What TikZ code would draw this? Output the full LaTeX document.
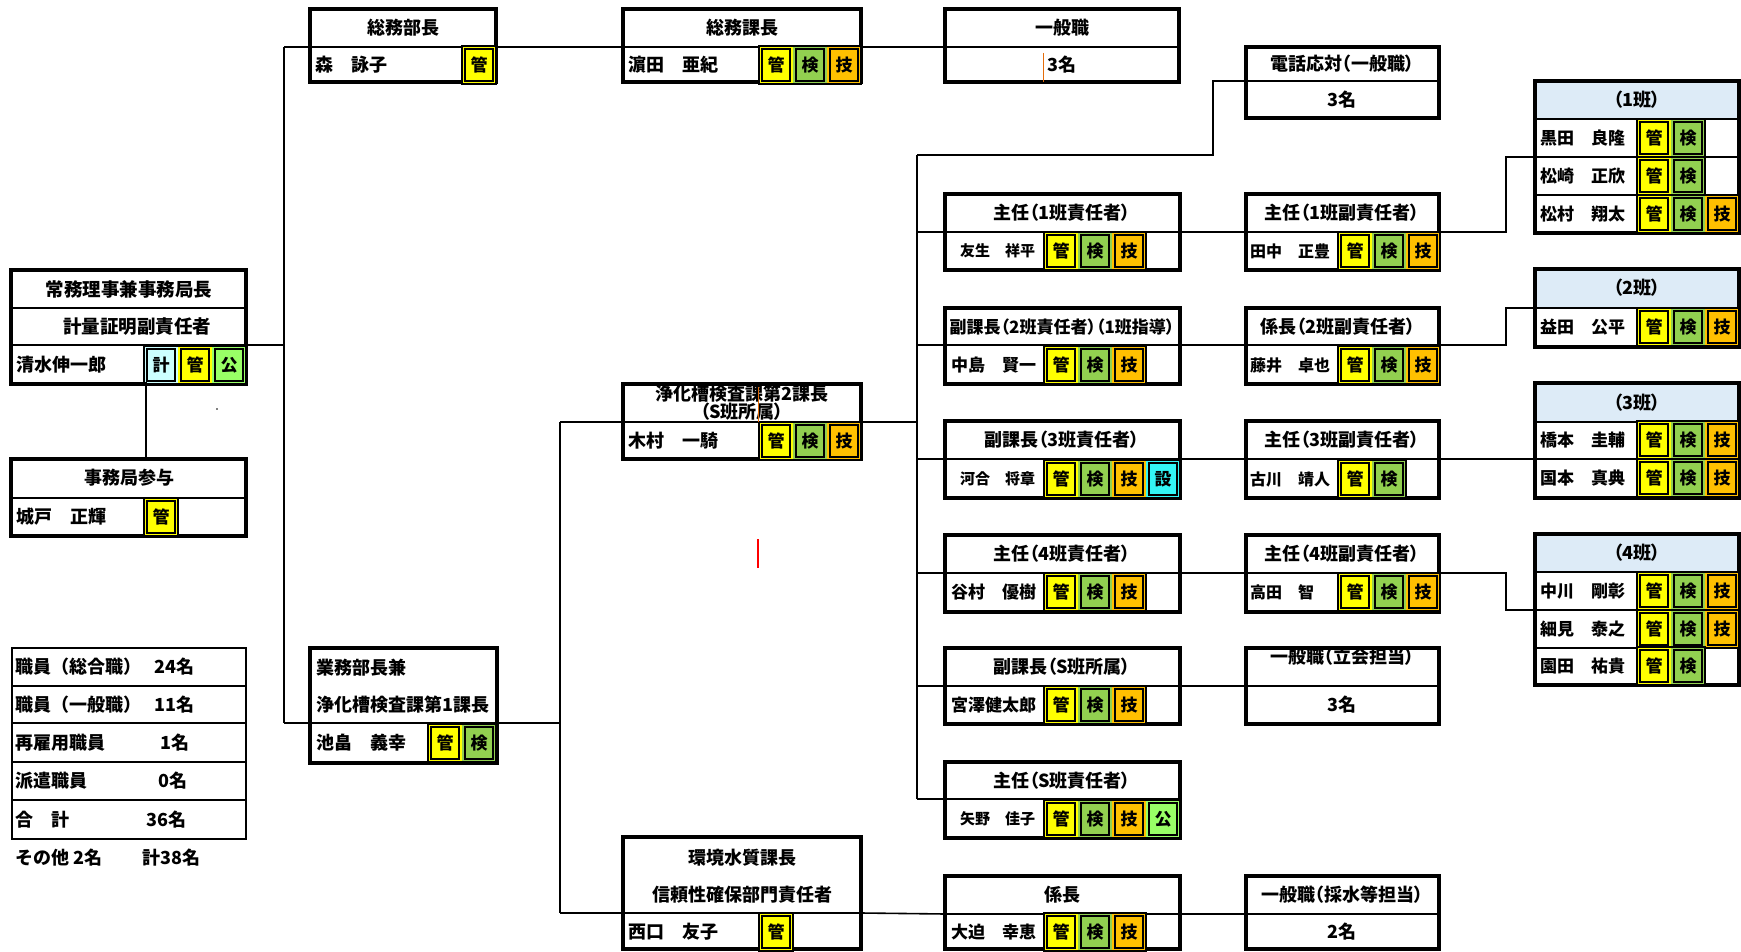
\documentclass[tikz,border=0pt]{standalone}
\usepackage{fontspec}
\setmainfont{Noto Sans CJK JP}
\newfontfamily\jpp{Noto Sans CJK JP}[RawFeature=+palt]
\usetikzlibrary{fit}
\definecolor{cK}{HTML}{FFFF00}
\definecolor{cG}{HTML}{92D050}
\definecolor{cO}{HTML}{FFC000}
\definecolor{cS}{HTML}{33F5F5}
\definecolor{cKei}{HTML}{CCFFFF}
\definecolor{cKo}{HTML}{99FF66}
\definecolor{cH}{HTML}{DDEBF7}
\definecolor{cR}{HTML}{E46C0A}
\newcommand\fsz[1]{\fontsize{#1pt}{#1pt}\selectfont\bfseries}
\tikzset{
  frame/.style={draw, line width=3.4pt, inner sep=0pt},
  divl/.style={line width=2pt},
  conn/.style={line width=1.6pt},
  txt/.style={inner sep=0pt, font=\fsz{18}},
  ptxt/.style={inner sep=0pt, font=\jpp\fsz{18}},
  nm/.style={inner sep=0pt, anchor=west, font=\fsz{18}},
  bdg/.style={fill=#1, draw=black, line width=1.7pt, minimum width=28pt,
    minimum height=32pt, inner sep=0pt, preaction={draw=#1, line width=5.5pt},
    font=\fsz{17}},
  grp/.style={draw, line width=1.1pt},
  tbl/.style={draw, line width=2pt, inner sep=0pt},
}
% box: name, x1, y1, x2, y2, y of divider
\newcommand\obox[6]{%
  \node[frame, fit={(#2,#3) (#4,#5)}] (#1) {};
  \coordinate (#1-dl) at (#2,#6);
  \coordinate (#1-dr) at (#4,#6);
  \draw[divl] (#1-dl) -- (#1-dr);
}
% badges: prefix, x left, y centre, count, list colour/char
\newcommand\bdgs[5]{%
  \foreach \bcol/\btxt [count=\i] in {#5} {
    \node[bdg=\bcol] (#1-b\i) at ({#2+17+(\i-1)*34},#3) {\btxt};
  }
  \draw[grp] (#2,#3-19) rectangle ({#2+34*#4},#3+19);
}
\begin{document}
\begin{tikzpicture}[x=1pt, y=-1pt]
\useasboundingbox (0,0) rectangle (1741,952);

% ---------- connectors ----------
\coordinate (vA1) at (284,47);
\coordinate (vA2) at (284,723);
\coordinate (vB1) at (560,422);
\coordinate (vB2) at (560,913);
\coordinate (vC1) at (917,155);
\coordinate (vC2) at (917,799);
\coordinate (tel) at (1213,155);
\coordinate (vF) at (1506,500);

% ---------- header fills ----------
\fill[cH] (1535,81) rectangle (1739,119);
\fill[cH] (1535,269) rectangle (1739,308);
\fill[cH] (1535,383) rectangle (1739,422);
\fill[cH] (1535,534) rectangle (1739,572);

% ---------- clipped titles ----------
\begin{scope}
  \clip (623,384) rectangle (861,422);
  \node[ptxt] (jokaso2-t1) at (742,394) {浄化槽検査課第2課長};
  \node[ptxt] (jokaso2-t2) at (742,412) {（S班所属）};
\end{scope}
\begin{scope}
  \clip (1246,648) rectangle (1439,686);
  \node[ptxt] (e5-t) at (1342,657) {一般職（立会担当）};
\end{scope}

% ---------- column A ----------
\obox{jimu}{11}{270}{246}{384}{345}
\draw[divl] (jimu.west |- 0,308) -- (jimu.east |- 0,308);
\node[txt, font=\fsz{18.5}] (jimu-t1) at (129,289) {常務理事兼事務局長};
\node[txt, font=\fsz{18.5}] (jimu-t2) at (137,327) {計量証明副責任者};
\node[nm] (jimu-n) at (16,365) {清水伸一郎};
\bdgs{jimu}{144}{365}{3}{cKei/計,cK/管,cKo/公}

\obox{sanyo}{11}{459}{246}{536}{498}
\node[txt] (sanyo-t) at (129,478) {事務局参与};
\node[nm] (sanyo-n) at (16,517) {城戸　正輝};
\bdgs{sanyo}{144}{517}{1}{cK/管}

\node[tbl, fit={(12,648) (246,839)}] (stats) {};
\foreach \yy in {686,723,762,800} \draw[divl] (stats.west |- 0,\yy) -- (stats.east |- 0,\yy);
\node[nm] (s1) at (15,667) {職員（総合職）};
\node[nm] (s1n) at (154,667) {24名};
\node[nm] (s2) at (15,705) {職員（一般職）};
\node[nm] (s2n) at (154,705) {11名};
\node[nm] (s3) at (15,743) {再雇用職員};
\node[nm] (s3n) at (160,743) {1名};
\node[nm] (s4) at (15,781) {派遣職員};
\node[nm] (s4n) at (158,781) {0名};
\node[nm] (s5) at (15,820) {合　計};
\node[nm] (s5n) at (146,820) {36名};
\node[nm] (s6) at (15,858) {その他 2名};
\node[nm] (s6n) at (142,858) {計38名};

% ---------- column B ----------
\obox{soumubu}{310}{9}{496}{82}{47}
\node[txt] (soumubu-t) at (403,28) {総務部長};
\node[nm] (soumubu-n) at (315,65) {森　詠子};
\bdgs{soumubu}{462}{65}{1}{cK/管}

\obox{gyomu}{310}{648}{497}{763}{723}
\node[nm] (gyomu-t1) at (316,668) {業務部長兼};
\node[nm] (gyomu-t2) at (316,705) {浄化槽検査課第1課長};
\node[nm] (gyomu-n) at (316,743) {池畠　義幸};
\bdgs{gyomu}{428}{743}{2}{cK/管,cG/検}

% ---------- column C ----------
\obox{soumuka}{623}{9}{861}{82}{47}
\node[txt] (soumuka-t) at (742,28) {総務課長};
\node[nm] (soumuka-n) at (628,65) {濵田　亜紀};
\bdgs{soumuka}{759}{65}{3}{cK/管,cG/検,cO/技}

\obox{jokaso2}{623}{384}{861}{459}{422}
\node[nm] (jokaso2-n) at (628,441) {木村　一騎};
\bdgs{jokaso2}{759}{441}{3}{cK/管,cG/検,cO/技}

\obox{kankyo}{623}{837}{861}{949}{913}
\node[txt] (kankyo-t1) at (742,858) {環境水質課長};
\node[txt] (kankyo-t2) at (742,895) {信頼性確保部門責任者};
\node[nm] (kankyo-n) at (628,932) {西口　友子};
\bdgs{kankyo}{759}{932}{1}{cK/管}

% ---------- column D ----------
\obox{ippan}{945}{9}{1179}{82}{47}
\node[txt] (ippan-t) at (1062,28) {一般職};
\node[txt] (ippan-n) at (1062,65) {3名};

\obox{d1}{945}{194}{1180}{270}{232}
\node[ptxt] (d1-t) at (1062,213) {主任（1班責任者）};
\node[nm, font=\fsz{15}] (d1-n) at (960,251) {友生　祥平};
\bdgs{d1}{1044}{251}{3}{cK/管,cG/検,cO/技}

\obox{d2}{945}{308}{1180}{384}{345}
\node[ptxt, font=\jpp\fsz{17}] (d2-t) at (1062,327) {副課長（2班責任者）（1班指導）};
\node[nm, font=\fsz{17}] (d2-n) at (951,365) {中島　賢一};
\bdgs{d2}{1044}{365}{3}{cK/管,cG/検,cO/技}

\obox{d3}{945}{421}{1180}{498}{459}
\node[ptxt] (d3-t) at (1062,440) {副課長（3班責任者）};
\node[nm, font=\fsz{15}] (d3-n) at (960,479) {河合　将章};
\bdgs{d3}{1044}{479}{4}{cK/管,cG/検,cO/技,cS/設}

\obox{d4}{945}{535}{1180}{612}{573}
\node[ptxt] (d4-t) at (1062,554) {主任（4班責任者）};
\node[nm, font=\fsz{17}] (d4-n) at (951,592) {谷村　優樹};
\bdgs{d4}{1044}{592}{3}{cK/管,cG/検,cO/技}

\obox{d5}{945}{648}{1180}{724}{686}
\node[ptxt] (d5-t) at (1062,667) {副課長（S班所属）};
\node[nm, font=\fsz{17}] (d5-n) at (951,705) {宮澤健太郎};
\bdgs{d5}{1044}{705}{3}{cK/管,cG/検,cO/技}

\obox{d6}{945}{762}{1180}{838}{799}
\node[ptxt] (d6-t) at (1062,781) {主任（S班責任者）};
\node[nm, font=\fsz{15}] (d6-n) at (960,819) {矢野　佳子};
\bdgs{d6}{1044}{819}{4}{cK/管,cG/検,cO/技,cKo/公}

\obox{d7}{945}{876}{1180}{949}{914}
\node[txt] (d7-t) at (1062,895) {係長};
\node[nm, font=\fsz{17}] (d7-n) at (951,932) {大迫　幸恵};
\bdgs{d7}{1044}{932}{3}{cK/管,cG/検,cO/技}

% ---------- column E ----------
\obox{e0}{1246}{47}{1439}{118}{81}
\node[ptxt] (e0-t) at (1342,64) {電話応対（一般職）};
\node[txt] (e0-n) at (1342,100) {3名};

\obox{e1}{1246}{194}{1439}{270}{232}
\node[ptxt] (e1-t) at (1342,213) {主任（1班副責任者）};
\node[nm, font=\fsz{16}] (e1-n) at (1250,251) {田中　正豊};
\bdgs{e1}{1338}{251}{3}{cK/管,cG/検,cO/技}

\obox{e2}{1246}{308}{1439}{384}{345}
\node[ptxt] (e2-t) at (1338,327) {係長（2班副責任者）};
\node[nm, font=\fsz{16}] (e2-n) at (1250,365) {藤井　卓也};
\bdgs{e2}{1338}{365}{3}{cK/管,cG/検,cO/技}

\obox{e3}{1246}{421}{1439}{498}{459}
\node[ptxt] (e3-t) at (1342,440) {主任（3班副責任者）};
\node[nm, font=\fsz{16}] (e3-n) at (1250,479) {古川　靖人};
\bdgs{e3}{1338}{479}{2}{cK/管,cG/検}

\obox{e4}{1246}{535}{1439}{612}{573}
\node[ptxt] (e4-t) at (1342,554) {主任（4班副責任者）};
\node[nm, font=\fsz{16}] (e4-n) at (1250,592) {高田　智};
\bdgs{e4}{1338}{592}{3}{cK/管,cG/検,cO/技}

\obox{e5}{1246}{648}{1439}{724}{686}
\node[txt] (e5-n) at (1342,705) {3名};

\obox{e6}{1246}{876}{1439}{949}{914}
\node[ptxt] (e6-t) at (1342,895) {一般職（採水等担当）};
\node[txt] (e6-n) at (1342,932) {2名};

% ---------- column F ----------
\obox{f1}{1535}{81}{1739}{233}{119}
\coordinate (f1-r1) at (1535,157);
\draw[divl] (f1-r1) -- (f1.east |- f1-r1);
\draw[divl] (f1.west |- 0,195) -- (f1.east |- 0,195);
\node[ptxt] (f1-t) at (1637,100) {（1班）};
\node[nm, font=\fsz{17}] (f1-n1) at (1540,138) {黒田　良隆};
\node[nm, font=\fsz{17}] (f1-n2) at (1540,176) {松崎　正欣};
\node[nm, font=\fsz{17}] (f1-n3) at (1540,214) {松村　翔太};
\bdgs{f1a}{1637}{138}{2}{cK/管,cG/検}
\bdgs{f1b}{1637}{176}{2}{cK/管,cG/検}
\bdgs{f1c}{1637}{214}{3}{cK/管,cG/検,cO/技}

\obox{f2}{1535}{269}{1739}{347}{308}
\node[ptxt] (f2-t) at (1637,288) {（2班）};
\node[nm, font=\fsz{17}] (f2-n1) at (1540,327) {益田　公平};
\bdgs{f2a}{1637}{327}{3}{cK/管,cG/検,cO/技}

\obox{f3}{1535}{383}{1739}{498}{422}
\coordinate (f3-r1) at (1535,459);
\draw[divl] (f3-r1) -- (f3.east |- f3-r1);
\node[ptxt] (f3-t) at (1637,403) {（3班）};
\node[nm, font=\fsz{17}] (f3-n1) at (1540,440) {橋本　圭輔};
\node[nm, font=\fsz{17}] (f3-n2) at (1540,478) {国本　真典};
\bdgs{f3a}{1637}{440}{3}{cK/管,cG/検,cO/技}
\bdgs{f3b}{1637}{478}{3}{cK/管,cG/検,cO/技}

\obox{f4}{1535}{534}{1739}{685}{572}
\coordinate (f4-r1) at (1535,610);
\draw[divl] (f4-r1) -- (f4.east |- f4-r1);
\draw[divl] (f4.west |- 0,648) -- (f4.east |- 0,648);
\node[ptxt] (f4-t) at (1637,553) {（4班）};
\node[nm, font=\fsz{17}] (f4-n1) at (1540,591) {中川　剛彰};
\node[nm, font=\fsz{17}] (f4-n2) at (1540,629) {細見　泰之};
\node[nm, font=\fsz{17}] (f4-n3) at (1540,666) {園田　祐貴};
\bdgs{f4a}{1637}{591}{3}{cK/管,cG/検,cO/技}
\bdgs{f4b}{1637}{629}{3}{cK/管,cG/検,cO/技}
\bdgs{f4c}{1637}{666}{2}{cK/管,cG/検}

% ---------- connector lines ----------
\draw[conn] (vA1) -- (vA2);
\draw[conn] (jimu-dr) -- (jimu-dr -| vA1);
\draw[conn] (jimu-b1.south west) -- (jimu-b1.south west |- sanyo.north);
\draw[conn] (vA1) -- (soumubu-dl);
\draw[conn] (soumubu-dr) -- (soumuka-dl);
\draw[conn] (soumuka-dr) -- (ippan-dl);
\draw[conn] (vA2) -- (gyomu-dl);
\draw[conn] (vB1) -- (vB2);
\draw[conn] (gyomu-dr) -- (gyomu-dr -| vB1);
\draw[conn] (vB1) -- (jokaso2-dl);
\draw[conn] (vB2) -- (kankyo-dl);
\draw[conn] (kankyo-dr) -- (d7-dl);
\draw[conn] (d7-dr) -- (e6-dl);
\draw[conn] (vC1) -- (vC2);
\draw[conn] (jokaso2-dr) -- (jokaso2-dr -| vC1);
\foreach \dd in {d1,d2,d3,d4,d5,d6} \draw[conn] (\dd-dl -| vC1) -- (\dd-dl);
\foreach \n in {1,...,5} \draw[conn] (d\n-dr) -- (e\n-dl);
\draw[conn] (vC1) -- (tel) |- (e0-dl);
\draw[conn] (e1-dr) -| (vF |- f1-r1) -- (f1-r1);
\draw[conn] (e2-dr) -| (vF |- f2-dl) -- (f2-dl);
\draw[conn] (e3-dr) -- (f3-r1);
\draw[conn] (e4-dr) -| (vF |- f4-r1) -- (f4-r1);

% ---------- small marks ----------
\draw[cR, line width=1pt] (1043,53) -- (1043,82);
\draw[cR, line width=1pt] (758,387) -- (758,422);
\draw[red, line width=1.2pt] (758,539) -- (758,568);
\fill (217,409) circle (0.9);
\end{tikzpicture}
\end{document}
